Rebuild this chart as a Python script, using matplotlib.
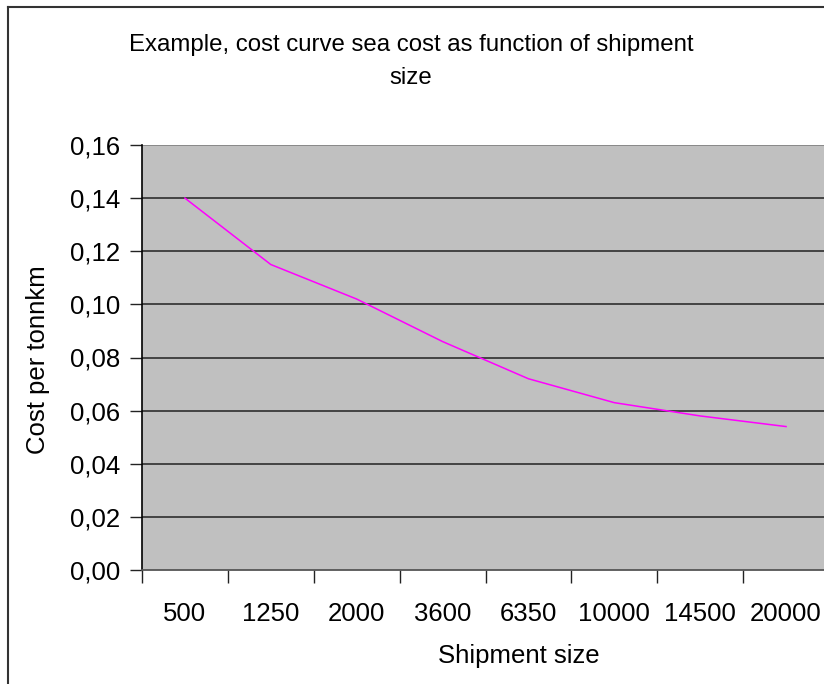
import matplotlib
matplotlib.use('Agg')
import matplotlib.pyplot as plt
from matplotlib.lines import Line2D
from matplotlib.ticker import FuncFormatter, FixedLocator

# Dados do gráfico
categorias = ['500', '1250', '2000', '3600', '6350', '10000', '14500', '20000']
custo = [0.140, 0.115, 0.102, 0.086, 0.072, 0.063, 0.058, 0.054]
yticks = [0.00, 0.02, 0.04, 0.06, 0.08, 0.10, 0.12, 0.14, 0.16]

plt.rcParams['font.family'] = ['Liberation Sans', 'DejaVu Sans']

W, H = 824, 684
FS = 18.5
fig = plt.figure(figsize=(W / 100, H / 100), dpi=100)
fig.patch.set_facecolor('white')

# area do grafico (px -> fracao da figura)
x0, x1, ytop, ybot = 142, 829, 145, 570
ax = fig.add_axes([x0 / W, 1 - ybot / H, (x1 - x0) / W, (ybot - ytop) / H])
ax.set_facecolor('#c0c0c0')

pos = list(range(len(categorias)))
ax.plot(pos, custo, color='#ff00ff', lw=1.1, zorder=3)

ax.set_xlim(-0.5, len(categorias) - 0.5)
ax.set_ylim(0, 0.16)

# grade horizontal
for v in yticks[1:-1]:
    ax.axhline(v, color='#222222', lw=1.1, zorder=2)
ax.axhline(0.16, color='#808080', lw=1.2, zorder=2)

ax.set_yticks(yticks)
ax.yaxis.set_major_formatter(FuncFormatter(lambda v, p: f'{v:.2f}'.replace('.', ',')))
ax.tick_params(axis='y', direction='out', length=9, width=1, color='#222222',
               labelsize=FS, pad=7)

# marcas do eixo x entre categorias, rotulos no centro
ax.set_xticks(pos)
ax.set_xticklabels(categorias)
ax.xaxis.set_minor_locator(FixedLocator([p - 0.5 for p in pos] + [len(pos) - 0.5]))
ax.tick_params(axis='x', which='major', length=0, labelsize=FS, pad=23)
ax.tick_params(axis='x', which='minor', direction='out', length=9, width=1, color='#222222')

for s in ['top', 'right']:
    ax.spines[s].set_visible(False)
ax.spines['left'].set_color('black')
ax.spines['left'].set_linewidth(1.2)
ax.spines['bottom'].set_color('#555555')
ax.spines['bottom'].set_linewidth(1.3)

# rotulos dos eixos e titulo
fig.text(519 / W, 1 - 656 / H, 'Shipment size', ha='center', va='center', fontsize=FS)
fig.text(38 / W, 1 - 360 / H, 'Cost per tonnkm', ha='center', va='center',
         rotation=90, fontsize=FS)
fig.text(411 / W, 1 - 45 / H, 'Example, cost curve sea cost as function of shipment',
         ha='center', va='center', fontsize=17.3)
fig.text(411 / W, 1 - 78 / H, 'size', ha='center', va='center', fontsize=17.3)

# moldura do grafico (parte visivel)
fig.add_artist(Line2D([8 / W, 8 / W], [0, 1 - 7 / H], transform=fig.transFigure,
                      color='#333333', lw=1.5))
fig.add_artist(Line2D([8 / W, 1], [1 - 7 / H, 1 - 7 / H], transform=fig.transFigure,
                      color='#333333', lw=1.5))

fig.savefig('out.png', dpi=100, facecolor='white')
